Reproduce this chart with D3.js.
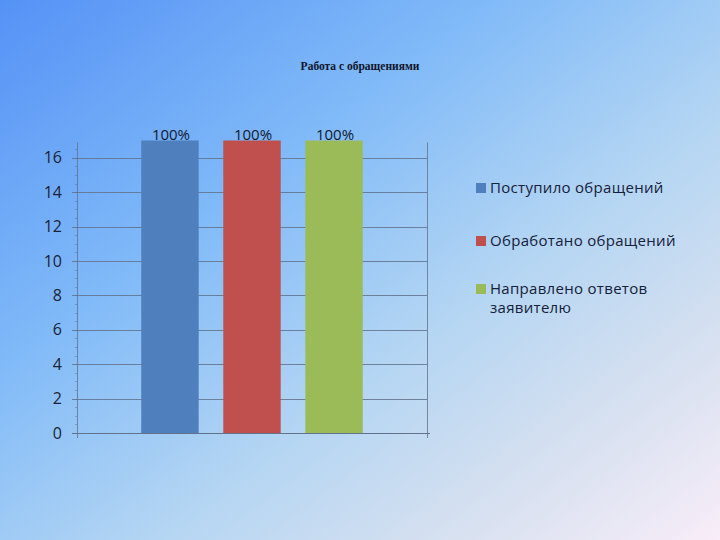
<!DOCTYPE html>
<html><head><meta charset="utf-8">
<script src="https://cdn.jsdelivr.net/npm/d3@7"></script>
<style>html,body{margin:0;padding:0;overflow:hidden;}svg{display:block;}</style>
</head><body>
<svg id="c" width="720" height="540"></svg>
<script>
const title = "Работа с обращениями";
const category = ["Работа с обращениями"];
const seriesNames = ["Поступило обращений", "Обработано обращений", "Направлено ответов заявителю"];
const seriesValues = [17, 17, 17];
const seriesLabels = ["100%", "100%", "100%"];
const seriesColors = ["#4f80bd", "#c0504d", "#9bbb59"];
const yTicks = [0, 2, 4, 6, 8, 10, 12, 14, 16];
const yMax = 17;

const svg = d3.select("#c");
const defs = svg.append("defs");
const g = defs.append("linearGradient").attr("id","bg")
  .attr("x1","0").attr("y1","0").attr("x2","1").attr("y2","1");
[[0,"#5592f6"],[0.35,"#82bbf8"],[0.6,"#b3d5f3"],[0.8,"#d5e0f0"],[1,"#f8edf8"]]
  .forEach(([o,c])=>g.append("stop").attr("offset",o).attr("stop-color",c));
svg.append("rect").attr("width",720).attr("height",540).attr("fill","url(#bg)");

const pL = 77, pR = 427, pT = 140.5, pB = 433;
const y = d3.scaleLinear().domain([0, yMax]).range([pB, pT]);
const x0 = d3.scaleBand().domain(category).range([pL, pR]).paddingOuter(0.29).paddingInner(0);
const x1 = d3.scaleBand().domain(seriesNames).range([0, x0.bandwidth()]).paddingInner(0.3).paddingOuter(0);

// title
svg.append("text").attr("x", 360).attr("y", 70).attr("text-anchor","middle")
  .attr("font-family","Liberation Serif").attr("font-size",11.5).attr("font-weight","bold")
  .attr("fill","#10142a").text(title);

// gridlines
const lineCol = "#62728c";
svg.append("g").selectAll("line").data(yTicks).join("line")
  .attr("x1", pL-5).attr("x2", pR).attr("y1", d=>Math.round(y(d))+0.5).attr("y2", d=>Math.round(y(d))+0.5)
  .attr("stroke", lineCol).attr("stroke-width",1).attr("stroke-opacity",0.85);

// right border
svg.append("line").attr("x1",pR+0.5).attr("x2",pR+0.5).attr("y1",y(yMax)+2).attr("y2",pB+5)
  .attr("stroke",lineCol).attr("stroke-opacity",0.8);

// y axis
const yAxis = d3.axisLeft(y).tickValues(yTicks).tickSize(0).tickPadding(15.5).tickFormat(d3.format("d"));
const ax = svg.append("g").attr("transform",`translate(${pL+0.5},0)`).call(yAxis);
ax.select(".domain").attr("stroke",lineCol).attr("stroke-opacity",0.8).attr("d",`M0,${y(yMax)+2}V${pB+5}`);
ax.selectAll("text").attr("font-family","Open Sans").attr("font-size",16).attr("fill","#1b2238");
// minor ticks
const minor = d3.range(0, yMax, 0.5);
svg.append("g").selectAll("line").data(minor).join("line")
  .attr("x1", pL-2).attr("x2", pL+0.5).attr("y1", d=>Math.round(y(d))+0.5).attr("y2", d=>Math.round(y(d))+0.5)
  .attr("stroke", lineCol).attr("stroke-opacity",0.5);

// bars
const grp = svg.append("g").attr("transform",`translate(${x0(category[0])},0)`);
grp.selectAll("rect").data(seriesNames).join("rect")
  .attr("x", d=>x1(d)).attr("width", x1.bandwidth())
  .attr("y", (d,i)=>y(seriesValues[i])).attr("height",(d,i)=>pB - y(seriesValues[i]))
  .attr("fill",(d,i)=>seriesColors[i]);
grp.selectAll("text").data(seriesNames).join("text")
  .attr("x", d=>x1(d)+x1.bandwidth()/2+1).attr("y",(d,i)=>y(seriesValues[i])-1)
  .attr("text-anchor","middle").attr("font-family","Open Sans").attr("font-size",15)
  .attr("fill","#111a30").text((d,i)=>seriesLabels[i]);

// x axis line
svg.append("line").attr("x1",pL-5).attr("x2",pR+3).attr("y1",pB+0.5).attr("y2",pB+0.5)
  .attr("stroke",lineCol);

// legend
const legRows = [
  {lines:["Поступило обращений"], base:193},
  {lines:["Обработано обращений"], base:246},
  {lines:["Направлено ответов","заявителю"], base:294}
];
const leg = svg.append("g");
legRows.forEach((r,i)=>{
  leg.append("rect").attr("x",476).attr("y",r.base-10).attr("width",10).attr("height",10).attr("fill",seriesColors[i]);
  const t = leg.append("text").attr("font-family","Open Sans").attr("font-size",15)
    .attr("letter-spacing",0.3).attr("fill","#15203a");
  r.lines.forEach((ln,j)=>t.append("tspan").attr("x",490).attr("y",r.base + j*19).text(ln));
});
</script>
</body></html>
